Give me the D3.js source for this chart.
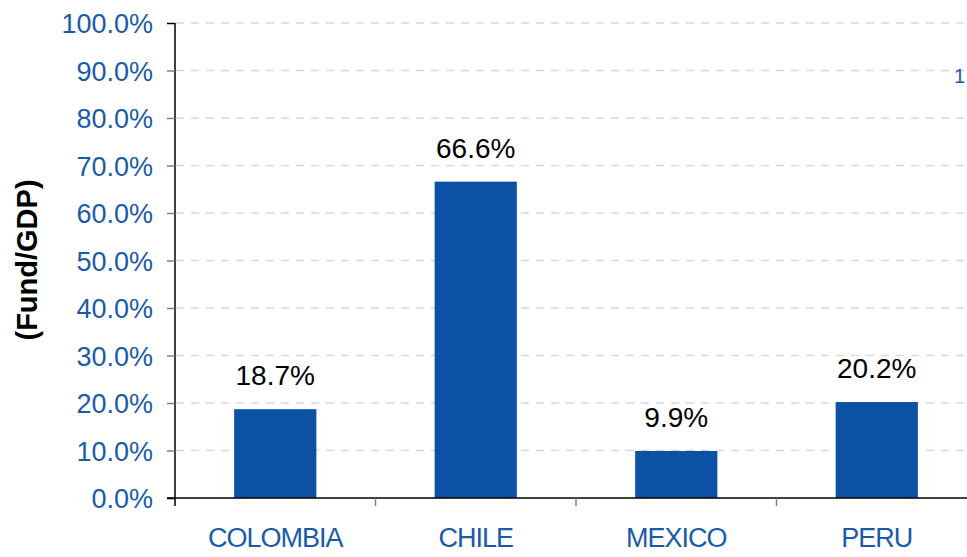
<!DOCTYPE html>
<html>
<head>
<meta charset="utf-8">
<script src="https://cdn.jsdelivr.net/npm/d3@7"></script>
<style>
  html, body { margin: 0; padding: 0; background: #fff; }
  svg { display: block; font-family: "Liberation Sans", Arial, sans-serif; }
</style>
</head>
<body>
<svg id="chart" width="967" height="557"></svg>
<script>
// Pension fund assets as share of GDP
const categories = ["COLOMBIA", "CHILE", "MEXICO", "PERU"];
const values = [18.7, 66.6, 9.9, 20.2];
const valueLabels = ["18.7%", "66.6%", "9.9%", "20.2%"];
const yTicks = [0, 10, 20, 30, 40, 50, 60, 70, 80, 90, 100];
const yTickLabels = ["0.0%", "10.0%", "20.0%", "30.0%", "40.0%", "50.0%", "60.0%", "70.0%", "80.0%", "90.0%", "100.0%"];

const blue = "#0B51A4";
const labelBlue = "#1A5BA9";

const svg = d3.select("#chart");
const plotLeft = 175, plotRight = 977, plotTop = 23, plotBottom = 498;

const x = d3.scaleBand().domain(categories).range([plotLeft, plotRight]).paddingInner(0.59).paddingOuter(0.295);
const y = d3.scaleLinear().domain([0, 100]).range([plotBottom, plotTop]);

// horizontal dashed gridlines
svg.append("g").selectAll("line").data(yTicks.filter(d => d > 0)).join("line")
  .attr("x1", plotLeft + 1).attr("x2", 967)
  .attr("y1", d => y(d)).attr("y2", d => y(d))
  .attr("stroke", "#d9d9d9").attr("stroke-width", 1.5)
  .attr("stroke-dasharray", "8,7");

// bars
svg.append("g").selectAll("rect").data(categories).join("rect")
  .attr("x", d => x(d))
  .attr("width", x.bandwidth())
  .attr("y", (d, i) => y(values[i]))
  .attr("height", (d, i) => y(0) - y(values[i]))
  .attr("fill", blue);

// value labels above bars
svg.append("g").selectAll("text").data(categories).join("text")
  .attr("x", d => x(d) + x.bandwidth() / 2)
  .attr("y", (d, i) => y(values[i]) - 24)
  .attr("text-anchor", "middle")
  .attr("font-size", 28)
  .attr("fill", "#000")
  .text((d, i) => valueLabels[i]);

// y axis
const yAxis = d3.axisLeft(y).tickValues(yTicks)
  .tickFormat((d, i) => yTickLabels[i]).tickSize(8).tickPadding(14);
const gy = svg.append("g").attr("transform", `translate(${plotLeft},0)`).call(yAxis);
gy.select(".domain").attr("stroke", "#000").attr("stroke-width", 1.5)
  .attr("d", `M0,${plotTop}V${plotBottom}`);
gy.selectAll(".tick line").attr("stroke", (d) => (d === 100 || d === 0) ? "#000" : "#808080").attr("stroke-width", 1.5);
gy.selectAll(".tick text").attr("font-size", 27).attr("fill", labelBlue)
  .attr("font-family", "'Liberation Sans', Arial, sans-serif").attr("dy", "0.36em");

// x axis
svg.append("line").attr("x1", plotLeft - 8).attr("x2", 967)
  .attr("y1", plotBottom).attr("y2", plotBottom)
  .attr("stroke", "#000").attr("stroke-width", 1.5);
const step = x.step();
const boundaries = categories.map((d, i) => x(d) - x.paddingInner() * step / 2);
svg.append("g").selectAll("line").data(boundaries).join("line")
  .attr("x1", d => d).attr("x2", d => d)
  .attr("y1", plotBottom).attr("y2", plotBottom + 8)
  .attr("stroke", (d, i) => i === 0 ? "#000" : "#808080").attr("stroke-width", 1.5);

svg.append("g").selectAll("text").data(categories).join("text")
  .attr("x", d => x(d) + x.bandwidth() / 2)
  .attr("y", 547)
  .attr("text-anchor", "middle")
  .attr("font-size", 27)
  .attr("letter-spacing", "-1px")
  .attr("fill", labelBlue)
  .text(d => d);

// y axis title
svg.append("text")
  .attr("transform", "translate(37,260) rotate(-90)")
  .attr("text-anchor", "middle")
  .attr("font-size", 29)
  .attr("font-weight", "bold")
  .attr("fill", "#000")
  .text("(Fund/GDP)");

// footnote marker
svg.append("text")
  .attr("x", 954).attr("y", 83)
  .attr("font-size", 20)
  .attr("fill", labelBlue)
  .text("1");
</script>
</body>
</html>
